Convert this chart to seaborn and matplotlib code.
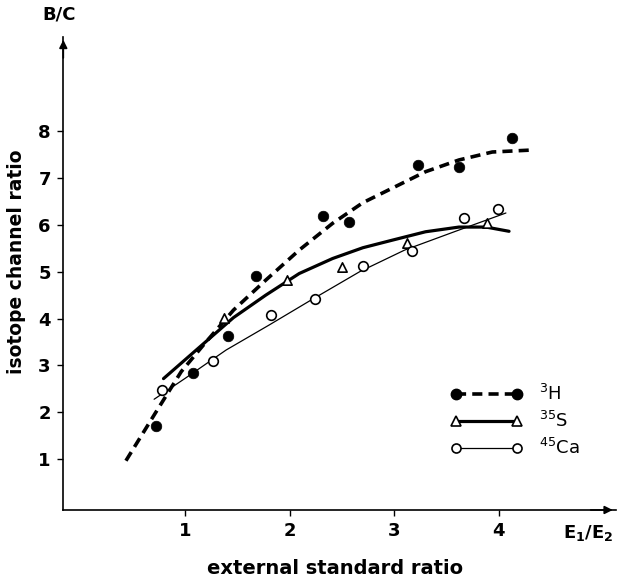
import matplotlib
matplotlib.use("Agg")
import matplotlib.pyplot as plt
import seaborn as sns
import pandas as pd
from matplotlib.lines import Line2D

# ---- data ----
h3_x = [0.72, 1.07, 1.41, 1.68, 2.32, 2.57, 3.23, 3.62, 4.13]
h3_y = [1.70, 2.85, 3.63, 4.90, 6.18, 6.06, 7.28, 7.23, 7.85]
s35_x = [1.37, 1.97, 2.50, 3.12, 3.89]
s35_y = [4.02, 4.82, 5.10, 5.60, 6.03]
ca45_x = [0.78, 1.26, 1.82, 2.24, 2.70, 3.17, 3.67, 3.99]
ca45_y = [2.48, 3.10, 4.07, 4.41, 5.12, 5.44, 6.15, 6.33]

# fitted curves
h3_curve_x = [0.43, 0.71, 0.96, 1.17, 1.46, 1.77, 2.09, 2.41, 2.70, 3.00, 3.30, 3.62, 3.94, 4.30]
h3_curve_y = [0.97, 1.98, 2.87, 3.43, 4.18, 4.82, 5.46, 6.03, 6.47, 6.80, 7.13, 7.38, 7.55, 7.59]
s35_curve_x = [0.79, 1.14, 1.46, 1.77, 2.09, 2.41, 2.70, 2.98, 3.30, 3.62, 3.88, 4.10]
s35_curve_y = [2.72, 3.40, 4.02, 4.50, 4.96, 5.28, 5.51, 5.67, 5.85, 5.95, 5.95, 5.86]
ca45_curve_x = [0.70, 1.00, 1.39, 1.80, 2.20, 2.67, 3.10, 3.60, 4.07]
ca45_curve_y = [2.28, 2.73, 3.33, 3.86, 4.39, 5.00, 5.46, 5.87, 6.25]

x_ticks = [1, 2, 3, 4]
y_ticks = [1, 2, 3, 4, 5, 6, 7, 8]
labels = [r"$^{3}$H", r"$^{35}$S", r"$^{45}$Ca"]

sns.set_style("ticks")
plt.rcParams["font.family"] = ["DejaVu Sans"]
plt.rcParams["mathtext.default"] = "regular"
for k in ["text.color", "axes.labelcolor", "xtick.color", "ytick.color", "axes.edgecolor"]:
    plt.rcParams[k] = "black"

fig = plt.figure(figsize=(6.17, 5.79), dpi=100)
ax = fig.add_axes([0.1026, 0.1192, 0.895, 0.8168])

dash = (0, (2.8, 1.7))
sns.lineplot(x=h3_curve_x, y=h3_curve_y, ax=ax, color="black", lw=2.6,
             linestyle=dash, sort=False, estimator=None, zorder=2)
sns.lineplot(x=s35_curve_x, y=s35_curve_y, ax=ax, color="black", lw=2.3,
             sort=False, estimator=None, zorder=2)
sns.lineplot(x=ca45_curve_x, y=ca45_curve_y, ax=ax, color="black", lw=0.9,
             sort=False, estimator=None, zorder=2)

sns.scatterplot(x=h3_x, y=h3_y, ax=ax, marker="o", s=58, color="black",
                edgecolor="black", linewidth=0.5, zorder=3)
sns.scatterplot(x=s35_x, y=s35_y, ax=ax, marker="^", s=45, facecolor="white",
                edgecolor="black", linewidth=1.2, zorder=3)
sns.scatterplot(x=ca45_x, y=ca45_y, ax=ax, marker="o", s=48, facecolor="white",
                edgecolor="black", linewidth=1.2, zorder=3)

ax.set_xlim(-0.17, 5.12)
ax.set_ylim(-0.08, 10.0)
ax.set_xticks(x_ticks)
ax.set_yticks(y_ticks)
ax.set_xticklabels([str(t) for t in x_ticks], fontsize=13, fontweight="bold")
ax.set_yticklabels([str(t) for t in y_ticks], fontsize=13, fontweight="bold")
ax.tick_params(direction="out", length=4, width=1.0, pad=5, colors="black")
for s in ["top", "right"]:
    ax.spines[s].set_visible(False)
for s in ["left", "bottom"]:
    ax.spines[s].set_linewidth(1.2)
    ax.spines[s].set_color("black")

# axis arrows
ax.annotate("", xy=(0, 1.0), xytext=(0, 0.95), xycoords="axes fraction",
            arrowprops=dict(arrowstyle="-|>", color="black", lw=1.2, mutation_scale=12))
ax.annotate("", xy=(1.0, 0), xytext=(0.95, 0), xycoords="axes fraction",
            arrowprops=dict(arrowstyle="-|>", color="black", lw=1.2, mutation_scale=12))

ax.set_xlabel("external standard ratio", fontsize=14, fontweight="bold", color="black")
ax.set_ylabel("isotope channel ratio", fontsize=13.5, fontweight="bold", color="black")
ax.xaxis.set_label_coords(0.4925, -0.124)
ax.yaxis.set_label_coords(-0.085, 0.525)
ax.xaxis.label.set_va("center")
ax.yaxis.label.set_va("center")

ax.text(-0.008, 1.048, "B/C", transform=ax.transAxes, ha="center", va="center",
        fontsize=13, fontweight="bold", color="black")
ax.text(0.996, -0.049, r"E$_1$/E$_2$", transform=ax.transAxes, ha="right", va="center",
        fontsize=13, fontweight="bold", color="black")

handles = [
    Line2D([], [], color="black", lw=2.6, linestyle=dash, marker="o", ms=7.5,
           mfc="black", mec="black"),
    Line2D([], [], color="black", lw=2.3, marker="^", ms=6.5, mfc="white",
           mec="black", mew=1.2),
    Line2D([], [], color="black", lw=0.9, marker="o", ms=6.5, mfc="white",
           mec="black", mew=1.2),
]
leg = ax.legend(handles, labels, numpoints=2, handlelength=4.0, frameon=False,
                loc="upper left", bbox_to_anchor=(0.7005, 0.2665), borderpad=0,
                borderaxespad=0, handletextpad=0.9, labelspacing=0.38, fontsize=13)
for t in leg.get_texts():
    t.set_color("black")

fig.savefig("out.png", dpi=100, facecolor="white")
